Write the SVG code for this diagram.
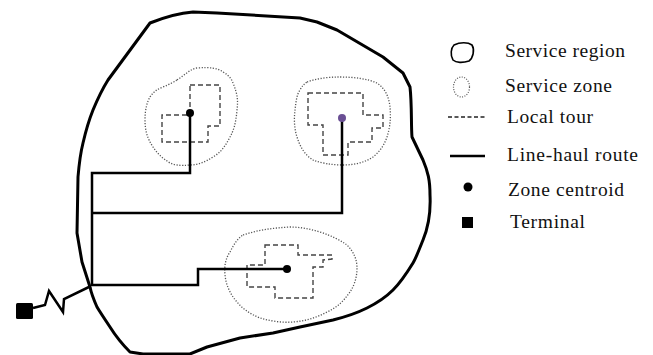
<svg xmlns="http://www.w3.org/2000/svg" width="653" height="355" viewBox="0 0 653 355">
<style>
.region{fill:none;stroke:#000;stroke-width:3;stroke-linejoin:round}
.zone{fill:none;stroke:#555;stroke-width:1.3;stroke-dasharray:1.2 1.6}
.tour{fill:none;stroke:#444;stroke-width:1.4;stroke-dasharray:5 3}
.haul{fill:none;stroke:#000;stroke-width:2.5;stroke-linejoin:miter}
.cent{fill:#000}
.lbl{font-family:"Liberation Serif","Times New Roman",serif;font-size:19.5px;fill:#111}
</style>
<rect width="653" height="355" fill="#fff"/>
<g id="service-region">
<path class="region" d="M108,80 L150,23 C165,17 180,13 193,12 L217,13 L300,18 L317,22 L337,30 L383,57 L403,73 L410,87 C412,105 411,125 412,137 L423,160 C428,172 430,180 430,195 C431,215 428,228 423,240 C419,250 416,258 413,263 C405,276 398,285 393,290 C383,300 375,304 367,308 C355,314 345,317 333,320 L300,327 L273,333 L240,338 L207,347 L190,354 L143,354 L130,352 C120,342 115,335 110,327 C104,318 100,312 97,307 C93,298 91,292 90,287 L82,262 L77,233 L78,177 C79,165 80,155 83,143 C86,130 89,120 93,110 C98,98 103,88 108,80 Z"/>
</g>
<g id="zone-1">
<path class="zone" d="M177,80 C185,75 190,69 197,68 C210,67 218,68 223,72 C230,76 232,80 233,83 C238,95 238,102 237,110 C236,122 234,130 230,137 C225,147 220,153 213,157 C205,162 198,165 190,165 C180,166 175,165 170,163 C162,158 157,153 153,147 C147,138 145,130 145,120 C145,110 147,102 150,97 C154,91 158,89 163,87 C170,84 174,82 177,80 Z"/>
<path class="tour" d="M190,85 L220,85 L220,126 L208,126 L208,142 L162,142 L162,115 L190,115 Z"/>
</g>
<g id="zone-2">
<path class="zone" d="M307,82 C318,78 330,77 340,77 C355,77 368,79 377,83 C386,89 389,98 390,107 C391,118 390,128 387,137 C384,146 379,152 373,157 C364,163 353,165 343,165 C331,165 321,163 313,160 C305,155 300,147 297,137 C294,128 294,118 295,110 C296,101 297,94 300,90 C302,86 304,84 307,82 Z"/>
<path class="tour" d="M308,93 L363,93 L363,115 L383,115 L383,128 L372,128 L372,142 L348,142 L348,155 L323,155 L323,125 L308,125 Z"/>
</g>
<g id="zone-3">
<path class="zone" d="M243,235 C258,230 272,228 290,227 C300,227 310,229 320,232 C332,236 340,240 347,245 C354,252 357,260 357,268 C357,278 354,286 350,292 C343,302 336,308 327,312 C316,318 305,321 293,322 C282,323 270,321 260,318 C250,314 243,309 237,302 C230,294 226,285 225,275 C224,265 226,258 230,252 C234,244 238,238 243,235 Z"/>
<path class="tour" d="M265,245 L298,245 L298,255 L332,255 L332,259 L323,260 L323,267 L313,267 L313,298 L275,298 L275,287 L247,287 L247,265 L265,265 Z"/>
</g>
<g id="terminal">
<rect x="16" y="303" width="17" height="16" rx="1.5" fill="#000"/>
</g>
<g id="connectors">
<path class="haul" d="M190,113 L190,173 L92,173 L92,286"/>
<path class="haul" d="M92,213 L342,213 L342,118"/>
<path class="haul" d="M92,285 L198,285 L198,269 L287,269"/>
<path class="haul" stroke-width="2" d="M33,308 L45,305 L49,291 L63,312 L64,299 L91,286"/>
</g>
<g id="centroid-1"><circle class="cent" cx="190" cy="113" r="4"/></g>
<g id="centroid-2"><circle cx="342" cy="118" r="4" fill="#6a4f94"/></g>
<g id="centroid-3"><circle class="cent" cx="287" cy="269" r="4"/></g>
<g id="legend">
<path d="M454,45 C460,42 468,42 472,45 C475,50 473,58 469,61 C463,63 456,63 453,60 C450,55 451,48 454,45 Z" fill="none" stroke="#000" stroke-width="1.6"/>
<ellipse cx="461.5" cy="87" rx="8" ry="10" fill="none" stroke="#555" stroke-width="1.2" stroke-dasharray="1 1.5"/>
<line x1="448" y1="117" x2="485" y2="117" stroke="#222" stroke-width="1.4" stroke-dasharray="4 2.5"/>
<line x1="450" y1="156" x2="485" y2="156" stroke="#000" stroke-width="2.5"/>
<circle cx="468" cy="187" r="4.5" fill="#000"/>
<rect x="462" y="217" width="11" height="11" fill="#000"/>
<text class="lbl" x="505" y="57" textLength="120" lengthAdjust="spacing">Service region</text>
<text class="lbl" x="505" y="92" textLength="107" lengthAdjust="spacing">Service zone</text>
<text class="lbl" x="507" y="123" textLength="86" lengthAdjust="spacing">Local tour</text>
<text class="lbl" x="507" y="161" textLength="131" lengthAdjust="spacing">Line-haul route</text>
<text class="lbl" x="508" y="196" textLength="116" lengthAdjust="spacing">Zone centroid</text>
<text class="lbl" x="510" y="228" textLength="75" lengthAdjust="spacing">Terminal</text>
</g>
</svg>
